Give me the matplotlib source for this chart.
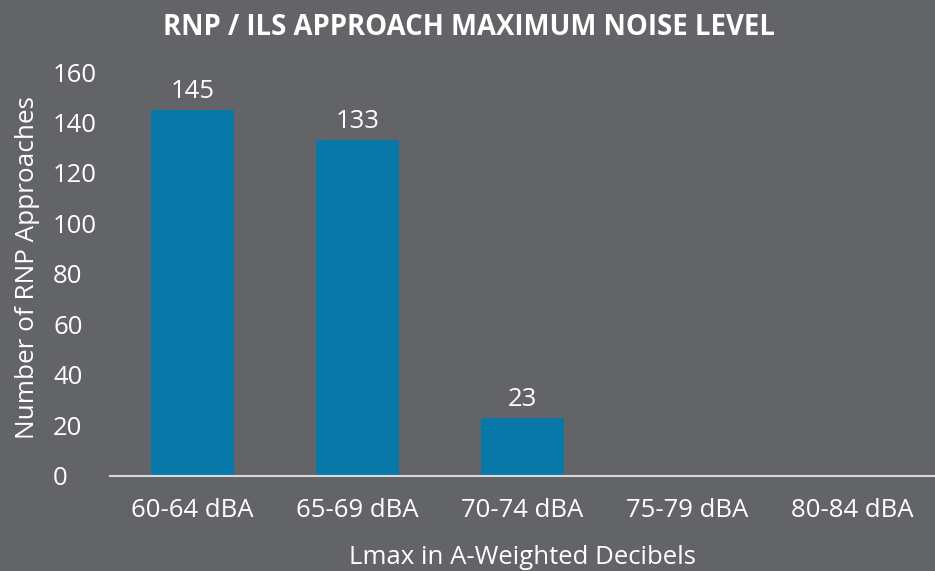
import matplotlib
matplotlib.use("Agg")
import matplotlib.pyplot as plt

# noise level bins and number of approaches
categories = ['60-64 dBA', '65-69 dBA', '70-74 dBA', '75-79 dBA', '80-84 dBA']
counts = [145, 133, 23, 0, 0]
yticks = [0, 20, 40, 60, 80, 100, 120, 140, 160]

bg = '#636468'
bar_color = '#0878A8'

plt.rcParams['font.family'] = ['Open Sans', 'DejaVu Sans']

fig = plt.figure(figsize=(9.35, 5.71), dpi=100, facecolor=bg)
ax = fig.add_axes([0.1176, 0.1664, 0.8824, 0.7075])
ax.set_facecolor(bg)

x = range(len(categories))
bars = ax.bar(x, counts, width=0.5, color=bar_color, zorder=2)

# value labels only for non-empty bars
for i, v in enumerate(counts):
    if v > 0:
        ax.text(i, v + 2.5, str(v), ha='center', va='bottom', color='white', fontsize=18.5)

ax.set_xlim(-0.5, len(categories) - 0.5)
ax.set_ylim(0, 160)
ax.set_yticks(yticks)
ax.set_xticks(list(x))
ax.set_xticklabels(categories)
ax.tick_params(axis='both', colors='white', labelsize=18.5, length=0)
ax.tick_params(axis='x', pad=16)
ax.tick_params(axis='y', pad=41)
for lbl in ax.get_yticklabels():
    lbl.set_horizontalalignment('left')

for s in ['top', 'right', 'left']:
    ax.spines[s].set_visible(False)
ax.spines['bottom'].set_color('#D9D9D9')
ax.spines['bottom'].set_linewidth(1.5)

ax.set_xlabel('Lmax in A-Weighted Decibels', color='white', fontsize=18.5, labelpad=16)
ax.set_ylabel('Number of RNP Approaches', color='white', fontsize=18.8, va='center')
ax.yaxis.set_label_coords(-0.1, 0.516)

fig.text(0.502, 0.952, 'RNP / ILS APPROACH MAXIMUM NOISE LEVEL', ha='center', va='center',
         color='white', fontsize=19.8, fontweight='bold')

fig.savefig('out.png', dpi=100, facecolor=bg)
